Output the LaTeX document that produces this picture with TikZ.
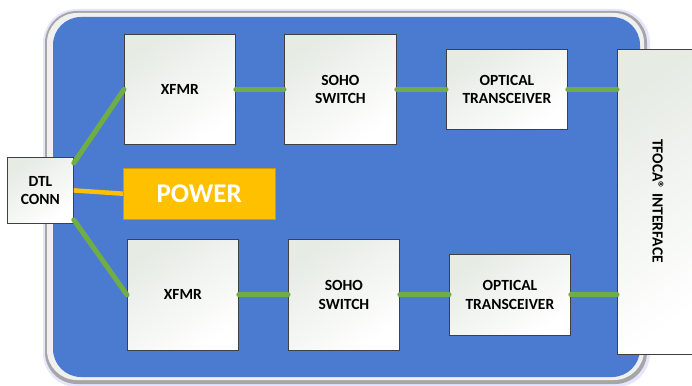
\documentclass[tikz,border=0pt]{standalone}
\usepackage{fontspec}
\setmainfont{Carlito}
\usepackage{tikz}
\usetikzlibrary{positioning, calc}
\definecolor{PanelBlue}{RGB}{74, 123, 208}
\definecolor{LinkGreen}{RGB}{112, 173, 71}
\definecolor{PowerOrange}{RGB}{255, 192, 0}
\definecolor{BoxTint}{RGB}{230, 235, 228}
\tikzset{
	blockbox/.style={draw=black!75, line width=0.8pt, top color=BoxTint, bottom color=white, shading angle=35,
		font=\bfseries\fontsize{15.5}{18.5}\selectfont, align=center, anchor=north west, inner sep=0pt},
	link/.style={LinkGreen, line width=5pt, line cap=round},
}
\begin{document}
\begin{tikzpicture}[x=1pt, y=-1pt]
	\clip (0,0) rectangle (692,385);
	% frame
	\fill[rounded corners=34pt, blue!10!white] (43,9) rectangle (650,387);
	\fill[rounded corners=32pt, gray!70] (45,11) rectangle (647,384);
	\fill[rounded corners=30pt, gray!12] (47,13) rectangle (644,380);
	\fill[rounded corners=28pt, PanelBlue] (53,17) rectangle (640,377);

	% top row
	\node[blockbox, minimum width=111pt, minimum height=110pt] (xfmrA) at (124,34) {XFMR};
	\node[blockbox, minimum width=112pt, minimum height=110pt] (sohoA) at (284,34) {SOHO\\SWITCH};
	\node[blockbox, minimum width=121pt, minimum height=80pt] (opticA) at (446,49) {OPTICAL\\TRANSCEIVER};

	% bottom row
	\node[blockbox, minimum width=111pt, minimum height=111pt] (xfmrB) at (127,239) {XFMR};
	\node[blockbox, minimum width=111pt, minimum height=111pt] (sohoB) at (288,239) {SOHO\\SWITCH};
	\node[blockbox, minimum width=121pt, minimum height=81pt] (opticB) at (449,254) {OPTICAL\\TRANSCEIVER};

	% interface and connector
	\node[blockbox, minimum width=85pt, minimum height=305pt] (tfoca) at (617,49) {};
	\node[font=\bfseries\fontsize{15.5}{18.5}\selectfont, rotate=-90] at (658,201) {TFOCA® INTERFACE};
	\node[blockbox, minimum width=66pt, minimum height=66pt] (dtl) at (7,157) {DTL\\CONN};

	\node[fill=PowerOrange, draw=PowerOrange!80!black, line width=0.4pt, anchor=north west, minimum width=152pt, minimum height=51pt,
		text=white, font=\bfseries\fontsize{27}{30}\selectfont] (power) at (123,168) {POWER};

	% links
	\draw[link] ([yshift=-6pt]dtl.north east) -- (xfmrA.west);
	\draw[link] ([yshift=4pt]dtl.south east) -- (xfmrB.west);
	\draw[PowerOrange, line width=4.5pt] (dtl.east) -- (power.west);
	\draw[link] (xfmrA.east) -- (sohoA.west);
	\draw[link] (sohoA.east) -- (opticA.west);
	\draw[link] (opticA.east) -- (opticA.east -| tfoca.west);
	\draw[link] (xfmrB.east) -- (sohoB.west);
	\draw[link] (sohoB.east) -- (opticB.west);
	\draw[link] (opticB.east) -- (opticB.east -| tfoca.west);
\end{tikzpicture}
\end{document}
